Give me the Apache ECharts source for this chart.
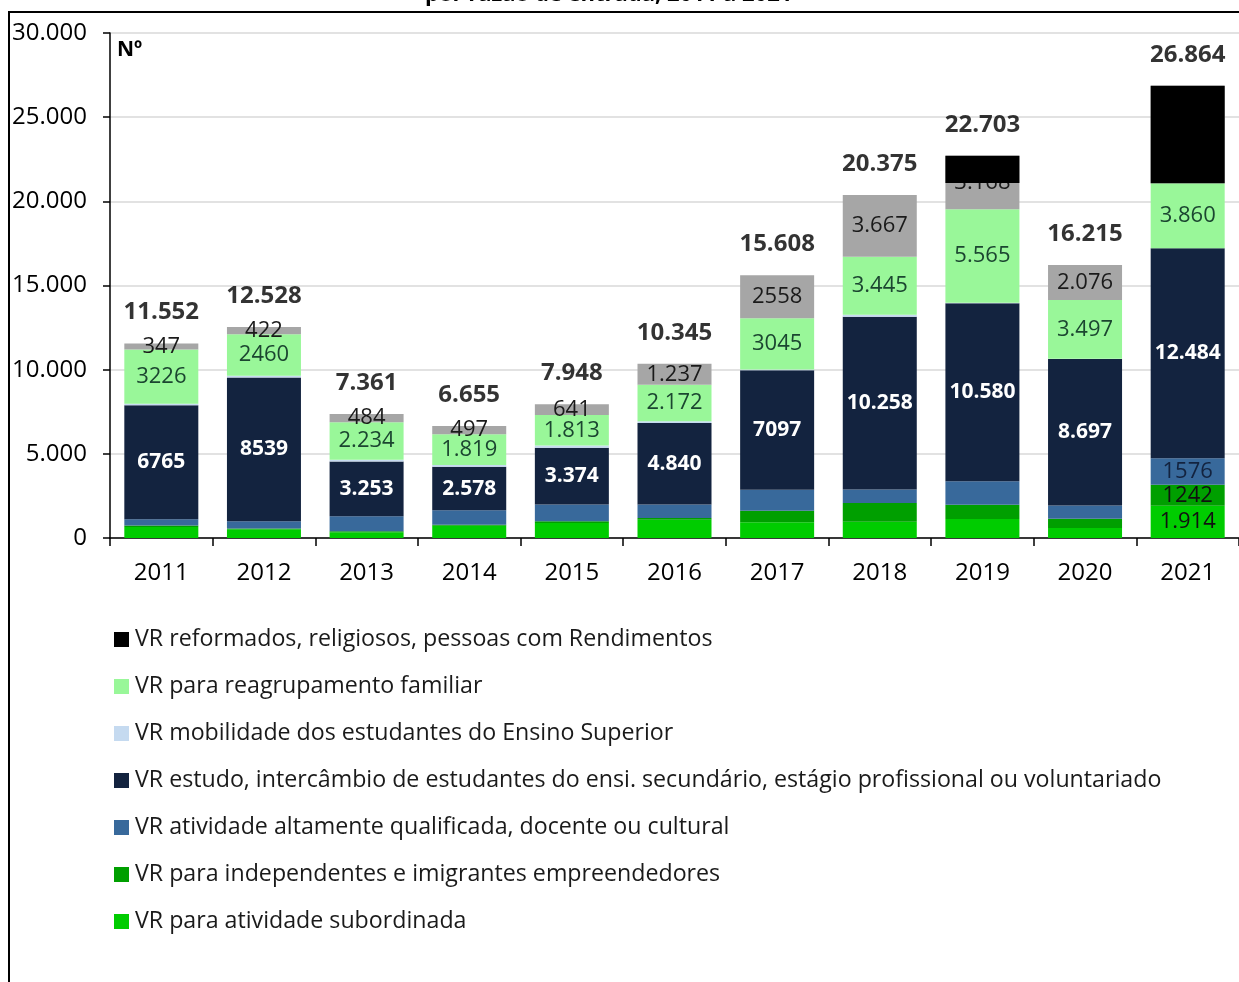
<!DOCTYPE html>
<html>
<head>
<meta charset="utf-8">
<script src="https://cdn.jsdelivr.net/npm/echarts@6/dist/echarts.min.js"></script>
<style>
  html, body { margin: 0; padding: 0; background: #fff; }
  #chart { width: 1239px; height: 982px; }
</style>
</head>
<body>
<div id="chart"></div>
<script>
var years = ['2011', '2012', '2013', '2014', '2015', '2016', '2017', '2018', '2019', '2020', '2021'];

// valores por razão de entrada (Nº)
var subordinada   = [660, 520, 340, 730, 890, 1090, 930, 970, 1130, 600, 1914];
var independentes = [80, 50, 60, 60, 100, 100, 690, 1110, 850, 540, 1242];
var qualificada   = [380, 420, 890, 860, 1000, 800, 1250, 800, 1390, 790, 1576];
var estudo        = [6765, 8539, 3253, 2578, 3374, 4840, 7097, 10258, 10580, 8697, 12484];
var mobilidade    = [94, 117, 100, 111, 130, 106, 38, 125, 20, 15, 0];
var reagrupamento = [3226, 2460, 2234, 1819, 1813, 2172, 3045, 3445, 5565, 3497, 3860];
var outros        = [347, 422, 484, 497, 641, 1237, 2558, 3667, 3168, 2076, 5788];
var reformados    = [0, 0, 0, 0, 0, 0, 0, 0, 1613, 0, 5788];
var reformadosBase = [0, 0, 0, 0, 0, 0, 0, 0, 21090, 0, 21076];
var totais        = [11552, 12528, 7361, 6655, 7948, 10345, 15608, 20375, 22703, 16215, 26864];

// rótulos como aparecem no gráfico
var estudoLabels = ['6765', '8539', '3.253', '2.578', '3.374', '4.840', '7097', '10.258', '10.580', '8.697', '12.484'];
var reagrupLabels = ['3226', '2460', '2.234', '1.819', '1.813', '2.172', '3045', '3.445', '5.565', '3.497', '3.860'];
var outrosLabels = ['347', '422', '484', '497', '641', '1.237', '2558', '3.667', '3.168', '2.076', '5.788'];
var subLabels = ['', '', '', '', '', '', '', '', '', '', '1.914'];
var indLabels = ['', '', '', '', '', '', '', '', '', '', '1242'];
var qualLabels = ['', '', '', '', '', '', '', '', '', '', '1576'];

var FONT = '"Open Sans", sans-serif';

function fmt(v) {
  return String(v).replace(/\B(?=(\d{3})+(?!\d))/g, '.');
}

function labelFrom(arr, color, bold) {
  return {
    show: true,
    position: 'inside',
    fontFamily: FONT,
    fontSize: bold ? 21 : 22,
    fontWeight: bold ? 'bold' : 'normal',
    color: color,
    formatter: function (p) { return arr[p.dataIndex]; }
  };
}

var chart = echarts.init(document.getElementById('chart'));

var option = {
  animation: false,
  backgroundColor: '#fff',
  textStyle: { fontFamily: FONT },
  grid: { left: 110, right: -4, top: 33, bottom: 444 },
  legend: {
    orient: 'vertical',
    left: 109,
    top: 623,
    itemWidth: 15,
    itemHeight: 15,
    itemGap: 24,
    icon: 'rect',
    textStyle: { fontFamily: FONT, fontSize: 23.2, lineHeight: 22, color: '#1a1a1a', padding: [0, 0, 0, 1] },
    data: [
      'VR reformados, religiosos, pessoas com Rendimentos',
      'VR para reagrupamento familiar',
      'VR mobilidade dos estudantes do Ensino Superior',
      'VR estudo, intercâmbio de estudantes do ensi. secundário, estágio profissional ou voluntariado',
      'VR atividade altamente qualificada, docente ou cultural',
      'VR para independentes e imigrantes empreendedores',
      'VR para atividade subordinada'
    ]
  },
  xAxis: {
    type: 'category',
    data: years,
    axisLine: { lineStyle: { color: '#000', width: 1.5 } },
    axisTick: { show: true, length: 8, lineStyle: { color: '#000', width: 1.5 } },
    axisLabel: { fontFamily: FONT, fontSize: 24, color: '#000', margin: 23 }
  },
  yAxis: {
    type: 'value',
    min: 0,
    max: 30000,
    interval: 5000,
    axisLine: { show: true, lineStyle: { color: '#000', width: 1.5 } },
    axisTick: { show: true, length: 7, lineStyle: { color: '#000', width: 1.5 } },
    axisLabel: { fontFamily: FONT, fontSize: 24, color: '#000', margin: 23, formatter: fmt },
    splitLine: { show: true, lineStyle: { color: '#d9d9d9', width: 1.5 } }
  },
  series: [
    {
      name: 'VR para atividade subordinada', type: 'bar', stack: 'vr', barWidth: 74,
      itemStyle: { color: '#00cc00' }, data: subordinada,
      label: labelFrom(subLabels, '#111', false)
    },
    {
      name: 'VR para independentes e imigrantes empreendedores', type: 'bar', stack: 'vr',
      itemStyle: { color: '#009f00' }, data: independentes,
      label: labelFrom(indLabels, '#111', false)
    },
    {
      name: 'VR atividade altamente qualificada, docente ou cultural', type: 'bar', stack: 'vr',
      itemStyle: { color: '#38699b' }, data: qualificada,
      label: labelFrom(qualLabels, '#13233f', false)
    },
    {
      name: 'VR estudo, intercâmbio de estudantes do ensi. secundário, estágio profissional ou voluntariado',
      type: 'bar', stack: 'vr',
      itemStyle: { color: '#13233f' }, data: estudo,
      label: labelFrom(estudoLabels, '#fff', true)
    },
    {
      name: 'VR mobilidade dos estudantes do Ensino Superior', type: 'bar', stack: 'vr',
      itemStyle: { color: '#c5daf0' }, data: mobilidade
    },
    {
      name: 'VR para reagrupamento familiar', type: 'bar', stack: 'vr',
      itemStyle: { color: '#99f799' }, data: reagrupamento,
      label: labelFrom(reagrupLabels, '#1b4630', false)
    },
    {
      name: 'Outros', type: 'bar', stack: 'vr',
      itemStyle: { color: '#a6a6a6' }, data: outros,
      label: labelFrom(outrosLabels, '#1a1a1a', false)
    },
    {
      name: 'base', type: 'bar', stack: 'sobre', barGap: '-100%', barWidth: 74, z: 3,
      itemStyle: { color: 'transparent' }, data: reformadosBase, silent: true
    },
    {
      name: 'VR reformados, religiosos, pessoas com Rendimentos', type: 'bar', stack: 'sobre', z: 3,
      itemStyle: { color: '#000' }, data: reformados
    },
    {
      name: 'Total', type: 'scatter', symbolSize: 0, z: 4, data: totais,
      label: {
        show: true, position: 'top', distance: 19,
        fontFamily: FONT, fontSize: 24, fontWeight: 'bold', color: '#000',
        formatter: function (p) { return fmt(p.value); }
      }
    }
  ],
  graphic: [
    { type: 'text', left: 117, top: 40, style: { text: 'Nº', fontFamily: FONT, fontSize: 21, fontWeight: 'bold', fill: '#000' } },
    { type: 'text', left: 425, top: -16, style: { text: 'por razão de entrada, 2011 a 2021', fontFamily: FONT, fontSize: 22, fontWeight: 'bold', fill: '#000' } },
    { type: 'line', shape: { x1: 8, y1: 12, x2: 1239, y2: 12 }, style: { stroke: '#000', lineWidth: 2 } },
    { type: 'line', shape: { x1: 9, y1: 12, x2: 9, y2: 982 }, style: { stroke: '#000', lineWidth: 2 } }
  ]
};

chart.setOption(option);
</script>
</body>
</html>
